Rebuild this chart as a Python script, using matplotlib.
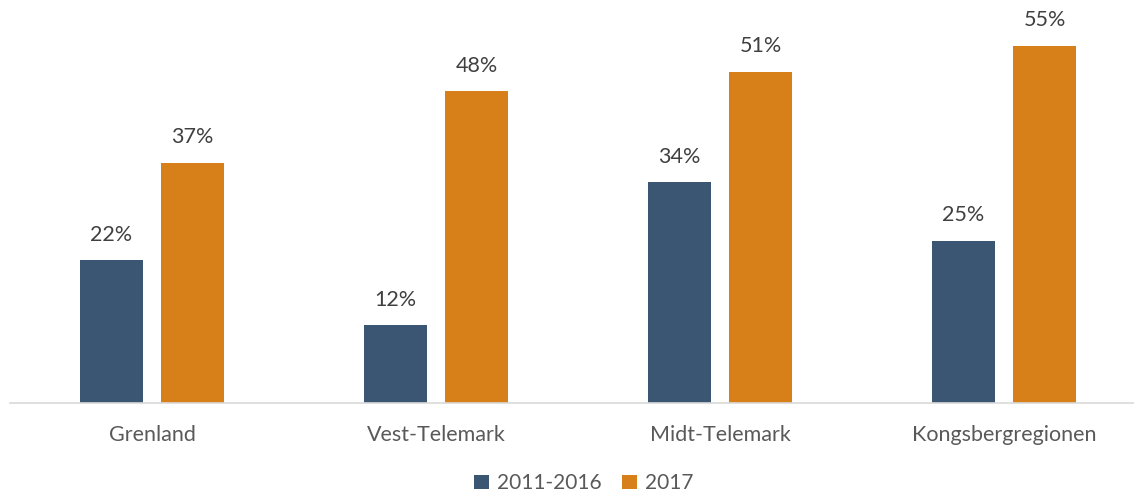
import matplotlib
matplotlib.use("Agg")
import matplotlib.pyplot as plt
import numpy as np

categories = ["Grenland", "Vest-Telemark", "Midt-Telemark", "Kongsbergregionen"]
series_names = ["2011-2016", "2017"]
values_2011_2016 = [22, 12, 34, 25]
values_2017 = [37, 48, 51, 55]
colors = ["#3A5673", "#D77F18"]

plt.rcParams['font.family'] = ['Lato', 'DejaVu Sans']

W, H = 1134, 496
fig = plt.figure(figsize=(W/100, H/100), dpi=100)
ax = fig.add_axes([10/W, 93/H, (W-10)/W, (H-93)/H])

x = np.arange(len(categories))
bw = 0.222
off = 0.1426
b1 = ax.bar(x - off, values_2011_2016, bw, color=colors[0], label=series_names[0])
b2 = ax.bar(x + off, values_2017, bw, color=colors[1], label=series_names[1])

for bars, vals in ((b1, values_2011_2016), (b2, values_2017)):
    for r, v in zip(bars, vals):
        ax.annotate(f"{v}%", (r.get_x() + r.get_width()/2, v), xytext=(0, 11),
                    textcoords="offset points", ha="center", va="bottom",
                    fontsize=15.5, color="#404040")

ax.set_xlim(-0.5, -0.5 + (W-10)/284)
ax.set_ylim(0, 403/6.5)
ax.set_xticks(x)
ax.set_xticklabels(categories, fontsize=15.5, color="#595959")
ax.tick_params(axis='x', length=0, pad=16)
ax.set_yticks([])
for s in ["top", "right", "left"]:
    ax.spines[s].set_visible(False)
ax.spines["bottom"].set_color("#D9D9D9")
ax.spines["bottom"].set_linewidth(1.2)

fig.legend(loc="lower center", bbox_to_anchor=(0.515, -0.032), ncol=2, frameon=False,
           fontsize=15, labelcolor="#595959", handlelength=0.7, handleheight=0.7,
           handletextpad=0.4, columnspacing=1.0)

fig.savefig("out.png", dpi=100)
